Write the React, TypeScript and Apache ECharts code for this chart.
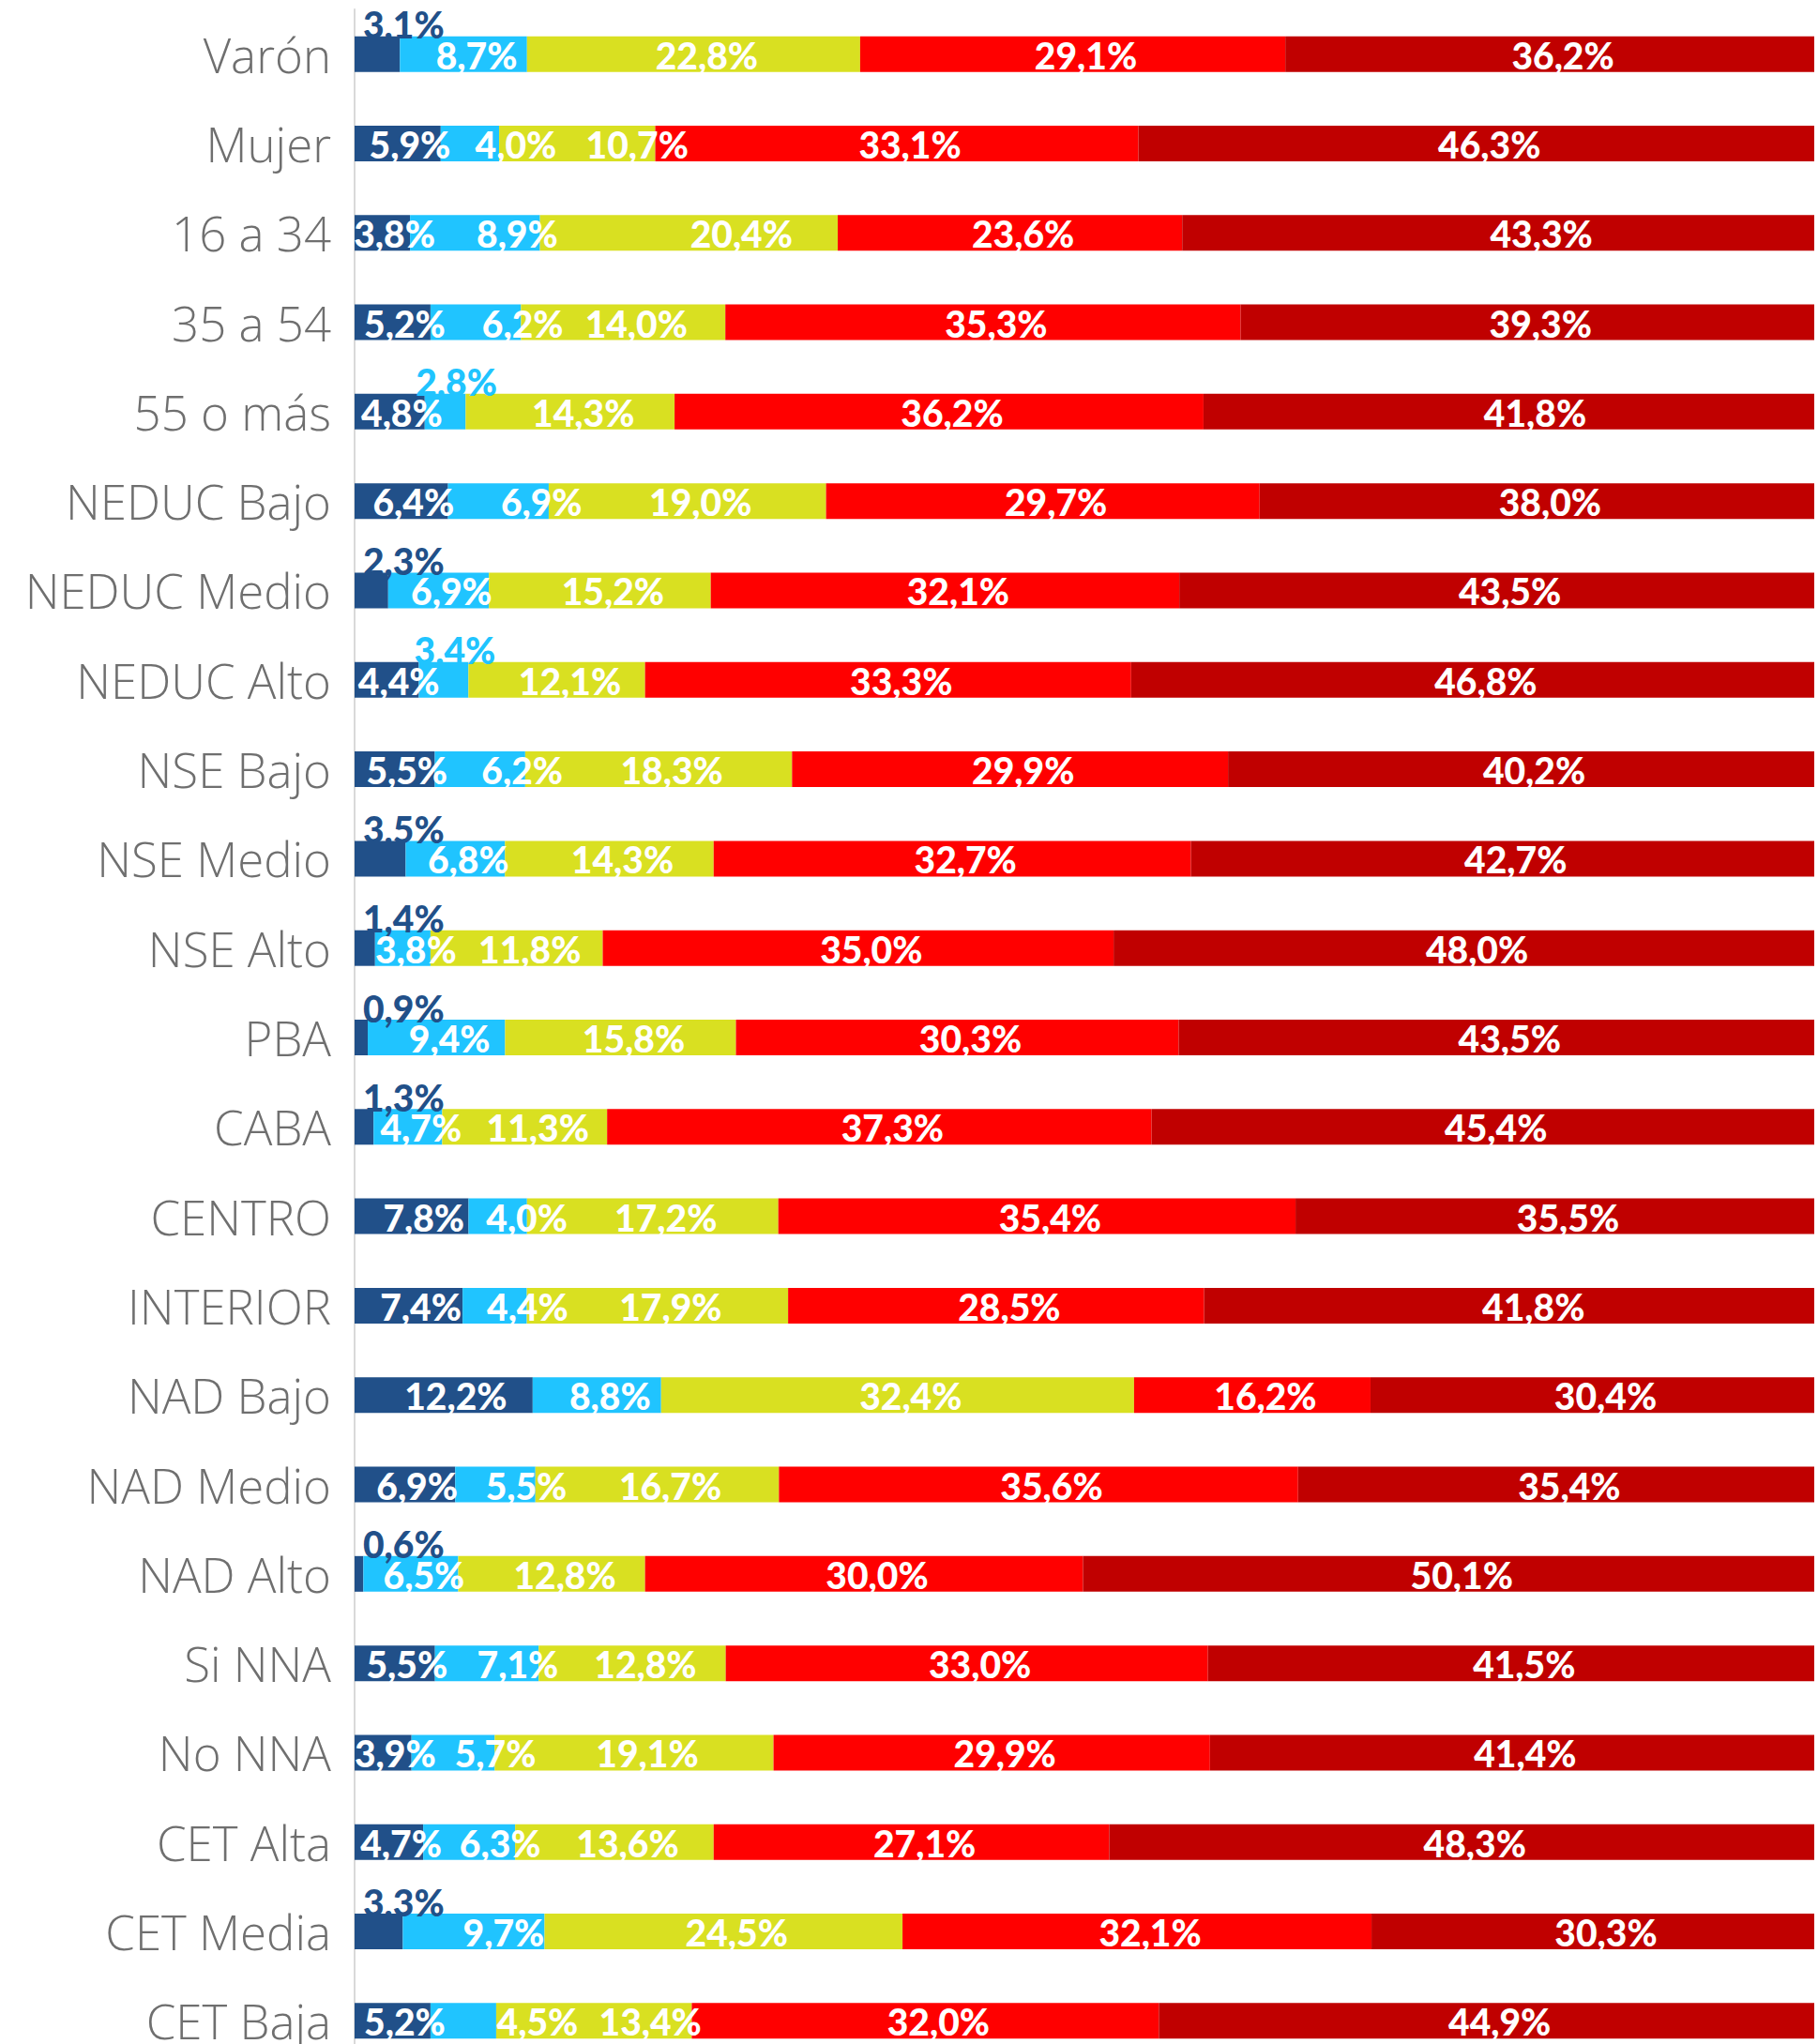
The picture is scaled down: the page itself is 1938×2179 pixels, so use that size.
import React, { useEffect, useRef } from "react";
import * as echarts from "echarts";

const categories = [
  "Varón", "Mujer", "16 a 34", "35 a 54", "55 o más", "NEDUC Bajo", "NEDUC Medio", "NEDUC Alto",
  "NSE Bajo", "NSE Medio", "NSE Alto", "PBA", "CABA", "CENTRO", "INTERIOR", "NAD Bajo", "NAD Medio",
  "NAD Alto", "Si NNA", "No NNA", "CET Alta", "CET Media", "CET Baja",
];
const serie1 = [3.1, 5.9, 3.8, 5.2, 4.8, 6.4, 2.3, 4.4, 5.5, 3.5, 1.4, 0.9, 1.3, 7.8, 7.4, 12.2, 6.9, 0.6, 5.5, 3.9, 4.7, 3.3, 5.2];
const serie2 = [8.7, 4.0, 8.9, 6.2, 2.8, 6.9, 6.9, 3.4, 6.2, 6.8, 3.8, 9.4, 4.7, 4.0, 4.4, 8.8, 5.5, 6.5, 7.1, 5.7, 6.3, 9.7, 4.5];
const serie3 = [22.8, 10.7, 20.4, 14.0, 14.3, 19.0, 15.2, 12.1, 18.3, 14.3, 11.8, 15.8, 11.3, 17.2, 17.9, 32.4, 16.7, 12.8, 12.8, 19.1, 13.6, 24.5, 13.4];
const serie4 = [29.1, 33.1, 23.6, 35.3, 36.2, 29.7, 32.1, 33.3, 29.9, 32.7, 35.0, 30.3, 37.3, 35.4, 28.5, 16.2, 35.6, 30.0, 33.0, 29.9, 27.1, 32.1, 32.0];
const serie5 = [36.2, 46.3, 43.3, 39.3, 41.8, 38.0, 43.5, 46.8, 40.2, 42.7, 48.0, 43.5, 45.4, 35.5, 41.8, 30.4, 35.4, 50.1, 41.5, 41.4, 48.3, 30.3, 44.9];

const seriesValues = [serie1, serie2, serie3, serie4, serie5];
const seriesNames = ["Serie 1", "Serie 2", "Serie 3", "Serie 4", "Serie 5"];
const colors = ["#215089", "#20C4FF", "#D9E021", "#FF0000", "#C00000"];

// label styling (not data): labels placed above the bar, and horizontal shifts in px
const aboveLabels: Record<string, boolean> = {
  "0-0": true, "4-1": true, "6-0": true, "7-1": true, "9-0": true, "10-0": true,
  "11-0": true, "12-0": true, "17-0": true, "21-0": true,
};
const labelShift: Record<string, number> = {
  "1-1": 49, "1-2": 64,
  "2-1": 45, "2-2": 56, "2-4": 46,
  "3-1": 50,
  "4-4": 28,
  "5-1": 46,
  "8-1": 45,
  "13-1": 31,
  "14-1": 35, "14-4": 26,
  "16-1": 33,
  "18-1": 33,
  "19-1": 45,
  "20-1": 33,
  "21-1": 32,
  "22-1": 79, "22-2": 60,
};

const fmt = (v: number) => v.toFixed(1).replace(".", ",") + "%";

export default function App() {
  const ref = useRef<HTMLDivElement>(null);
  useEffect(() => {
    document.body.style.margin = "0";
    const chart = echarts.init(ref.current!, undefined, { renderer: "svg" });
    const rowSums = categories.map((_, i) => seriesValues.reduce((s, arr) => s + arr[i], 0));
    const series = seriesValues.map((vals, si) => ({
      name: seriesNames[si],
      type: "bar",
      stack: "total",
      barWidth: 38,
      itemStyle: { color: colors[si] },
      label: {
        show: true,
        position: "inside",
        color: "#ffffff",
        fontFamily: "Lato",
        fontWeight: 900,
        fontSize: 39,
        offset: [si === 0 ? 13 : 14, 1],
        formatter: (p: any) => fmt(vals[p.dataIndex]),
      },
      data: vals.map((v, i) => {
        const key = `${i}-${si}`;
        const item: any = { value: (v / rowSums[i]) * 100 };
        if (aboveLabels[key]) {
          item.label = si === 0
            ? { position: [9, 7], align: "left", verticalAlign: "bottom", color: colors[si], offset: [0, 0] }
            : { position: ["50%", 7], align: "center", verticalAlign: "bottom", color: colors[si], offset: [12, 0] };
        } else if (labelShift[key] !== undefined) {
          item.label = { offset: [labelShift[key], 1] };
        }
        return item;
      }),
    }));
    chart.setOption({
      animation: false,
      grid: { left: 378, right: 4, top: 10, height: 2192, containLabel: false },
      xAxis: { type: "value", min: 0, max: 100, show: false },
      yAxis: {
        type: "category",
        inverse: true,
        data: categories,
        axisLine: { show: true, lineStyle: { color: "#d9d9d9", width: 2 } },
        axisTick: { show: false },
        axisLabel: { margin: 25, color: "#6f6f6f", fontFamily: "Open Sans", fontWeight: 300, fontSize: 51 },
      },
      series,
    });
    return () => chart.dispose();
  }, []);
  return (
    <div style={{ width: 1938, height: 2179, overflow: "hidden", position: "relative" }}>
      <div ref={ref} style={{ width: 1938, height: 2215 }} />
    </div>
  );
}
